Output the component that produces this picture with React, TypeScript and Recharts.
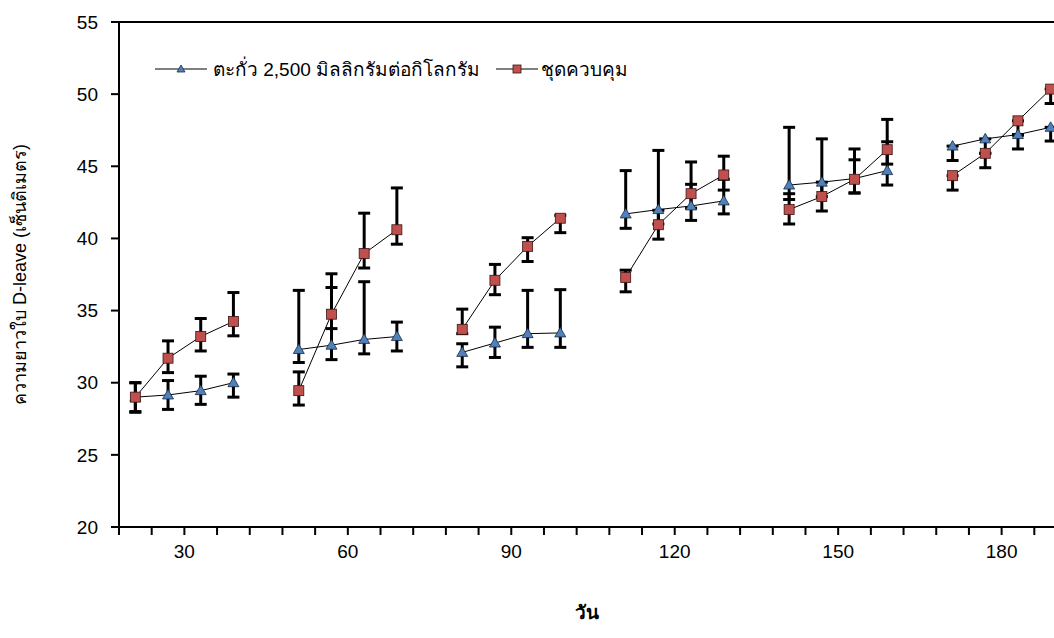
import { LineChart, Line, XAxis, YAxis, ErrorBar, ReferenceLine } from 'recharts';

const dayLabels = ['30', '60', '90', '120', '150', '180'];

const leadName = 'ตะกั่ว 2,500 มิลลิกรัมต่อกิโลกรัม';
const controlName = 'ชุดควบคุม';

// 4 readings per group, groups separated by an empty slot
const leadMeans = [
  [29.0, 29.15, 29.45, 30.0],
  [32.3, 32.6, 33.0, 33.2],
  [32.1, 32.75, 33.4, 33.45],
  [41.7, 42.0, 42.25, 42.6],
  [43.7, 43.9, 44.15, 44.7],
  [46.4, 46.9, 47.2, 47.7],
];
const leadPlus = [
  [1.0, 1.0, 1.0, 0.6],
  [4.1, 4.0, 4.0, 1.0],
  [0.6, 1.1, 3.0, 3.0],
  [3.0, 4.1, 1.5, 1.5],
  [4.0, 3.0, 1.3, 2.0],
  [0, 0, 0, 0],
];
const leadMinus = [
  [1.0, 1.0, 0.95, 1.0],
  [0.9, 1.0, 1.0, 1.0],
  [1.0, 1.0, 0.95, 1.0],
  [1.0, 1.0, 1.0, 0.9],
  [1.0, 1.0, 1.0, 1.0],
  [1.0, 1.0, 1.0, 0.95],
];

const controlMeans = [
  [29.0, 31.7, 33.2, 34.25],
  [29.45, 34.75, 38.95, 40.6],
  [33.7, 37.1, 39.45, 41.4],
  [37.3, 40.95, 43.1, 44.4],
  [42.0, 42.9, 44.1, 46.15],
  [44.35, 45.9, 48.15, 50.35],
];
const controlPlus = [
  [1.0, 1.2, 1.25, 2.0],
  [1.3, 2.8, 2.8, 2.9],
  [1.4, 1.1, 0.6, 0.2],
  [0.5, 1.0, 2.2, 1.3],
  [1.1, 1.0, 2.1, 2.1],
  [0, 0, 0, 0],
];
const controlMinus = [
  [1.05, 1.0, 1.0, 1.0],
  [1.0, 1.0, 1.0, 1.0],
  [0.3, 1.0, 1.05, 1.0],
  [1.0, 1.0, 1.0, 1.05],
  [1.0, 1.0, 0.95, 1.0],
  [1.0, 1.0, 1.0, 1.0],
];

const yTicks = [20, 25, 30, 35, 40, 45, 50, 55];

const SLOTS = 29;
const data = Array.from({ length: SLOTS }, (_, i) => {
  const g = Math.floor(i / 5);
  const p = i % 5;
  if (p === 4 || g >= leadMeans.length) {
    return { x: i + 0.5, lead: null, control: null, leadErr: null, controlErr: null };
  }
  return {
    x: i + 0.5,
    lead: leadMeans[g][p],
    control: controlMeans[g][p],
    leadErr: [leadMinus[g][p], leadPlus[g][p]],
    controlErr: [controlMinus[g][p], controlPlus[g][p]],
  };
});

// label at the boundary in the middle of each group
const xTickLabels: Record<number, string> = {};
dayLabels.forEach((d, i) => {
  xTickLabels[i * 5 + 2] = d;
});
const xTicks = Array.from({ length: SLOTS + 1 }, (_, i) => i);

const font = 'Arial, "Liberation Sans", "Noto Sans", sans-serif';
const blue = '#4F81BD';
const red = '#C0504D';

const TriangleDot = (props: any) => {
  const { cx, cy, index } = props;
  if (cx == null || cy == null) return <g key={'t' + index} />;
  return (
    <path
      key={'t' + index}
      d={`M${cx},${cy - 5.5} L${cx + 5.5},${cy + 4} L${cx - 5.5},${cy + 4} Z`}
      fill={blue}
      stroke="#1c2a40"
      strokeWidth={0.8}
    />
  );
};

const SquareDot = (props: any) => {
  const { cx, cy, index } = props;
  if (cx == null || cy == null) return <g key={'s' + index} />;
  return (
    <rect
      key={'s' + index}
      x={cx - 5}
      y={cy - 5}
      width={10}
      height={10}
      fill={red}
      stroke="#3a1414"
      strokeWidth={0.8}
    />
  );
};

const YTitle = (props: any) => {
  const { viewBox } = props;
  const x = viewBox.x + 20;
  const y = viewBox.y + viewBox.height / 2;
  return (
    <text
      x={x}
      y={y}
      transform={`rotate(-90 ${x} ${y})`}
      textAnchor="middle"
      dominantBaseline="central"
      fontSize={18}
      fontFamily={font}
      fill="#000"
    >
      ความยาวใบ D-leave (เซ็นติเมตร)
    </text>
  );
};

const XTitle = (props: any) => {
  const { viewBox } = props;
  return (
    <text
      x={viewBox.x + viewBox.width / 2 - 6}
      y={viewBox.y + 92}
      textAnchor="middle"
      fontSize={19}
      fontWeight="bold"
      fontFamily={font}
      fill="#000"
    >
      วัน
    </text>
  );
};

export default function App() {
  return (
    <div
      style={{
        position: 'fixed',
        left: 0,
        top: 0,
        width: 1054,
        height: 638,
        overflow: 'hidden',
        background: '#fff',
        fontFamily: font,
      }}
    >
      <LineChart width={1080} height={638} data={data} margin={{ top: 22, right: 13, bottom: 0, left: 0 }}>
        <XAxis
          type="number"
          dataKey="x"
          domain={[0, SLOTS]}
          ticks={xTicks}
          interval={0}
          tickFormatter={(v: number) => xTickLabels[v] ?? ''}
          height={111}
          axisLine={{ stroke: '#000', strokeWidth: 2 }}
          tickLine={{ stroke: '#000', strokeWidth: 2 }}
          tickSize={8}
          tickMargin={10}
          tick={{ fill: '#000', fontSize: 19, fontFamily: font }}
          label={<XTitle />}
        />
        <YAxis
          domain={[20, 55]}
          ticks={yTicks}
          interval={0}
          width={119}
          axisLine={{ stroke: '#000', strokeWidth: 2 }}
          tickLine={{ stroke: '#000', strokeWidth: 2 }}
          tickSize={8}
          tickMargin={13}
          tick={{ fill: '#000', fontSize: 19, fontFamily: font }}
          label={<YTitle />}
        />
        <ReferenceLine y={55} stroke="#000" strokeWidth={2} />
        <Line
          dataKey="lead"
          name={leadName}
          stroke="#000"
          strokeWidth={1}
          dot={TriangleDot}
          activeDot={false}
          connectNulls={false}
          isAnimationActive={false}
        >
          <ErrorBar dataKey="leadErr" direction="y" width={6} stroke="#000" strokeWidth={3} />
        </Line>
        <Line
          dataKey="control"
          name={controlName}
          stroke="#000"
          strokeWidth={1}
          dot={SquareDot}
          activeDot={false}
          connectNulls={false}
          isAnimationActive={false}
        >
          <ErrorBar dataKey="controlErr" direction="y" width={6} stroke="#000" strokeWidth={3} />
        </Line>
      </LineChart>
      <div
        style={{
          position: 'absolute',
          left: 155,
          top: 54,
          display: 'flex',
          alignItems: 'center',
          fontSize: 19,
          color: '#000',
          whiteSpace: 'nowrap',
        }}
      >
        <svg width={52} height={14} style={{ marginRight: 6 }}>
          <line x1={0} y1={7} x2={52} y2={7} stroke="#000" strokeWidth={1} />
          <path d="M26,3 L30,10 L22,10 Z" fill={blue} stroke="#1c2a40" strokeWidth={0.8} />
        </svg>
        <span>{leadName}</span>
        <svg width={42} height={14} style={{ marginLeft: 16, marginRight: 3 }}>
          <line x1={0} y1={7} x2={42} y2={7} stroke="#000" strokeWidth={1} />
          <rect x={17} y={3} width={8} height={8} fill={red} stroke="#3a1414" strokeWidth={0.8} />
        </svg>
        <span>{controlName}</span>
      </div>
    </div>
  );
}
